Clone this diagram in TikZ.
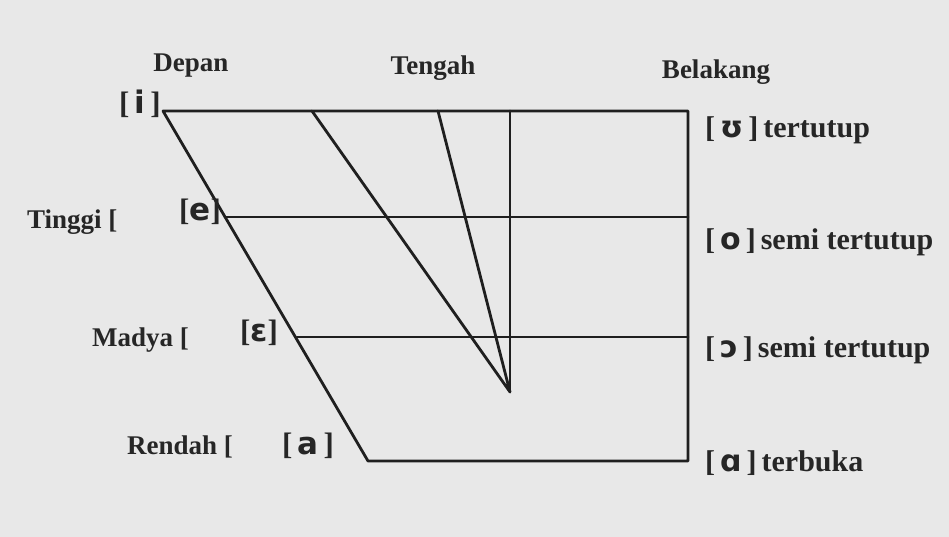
\documentclass[tikz,border=0pt]{standalone}
\usepackage{fontspec}
\setmainfont{Liberation Serif}
\newfontfamily\ipa{DejaVu Sans}
\begin{document}
\begin{tikzpicture}[x=1pt,y=-1pt,
  lbl/.style={inner sep=0pt,font=\fontsize{27}{29}\selectfont\bfseries, text=black!85},
  vlbl/.style={inner sep=0pt,font=\fontsize{31}{33}\selectfont\bfseries, text=black!85},
  rlbl/.style={inner sep=0pt,anchor=west,font=\fontsize{30}{32}\selectfont\bfseries, text=black!85},
  ln/.style={line width=2.8pt,draw=black!88,line cap=round,line join=round}]
\fill[black!9] (0,0) rectangle (949,537);
\useasboundingbox (0,0) rectangle (949,537);
% vertices
\coordinate (TL) at (163,111);
\coordinate (TR) at (688,111);
\coordinate (BR) at (688,461);
\coordinate (BL) at (368,461);
\coordinate (M1L) at (225,217);
\coordinate (M1R) at (688,217);
\coordinate (M2L) at (297,337);
\coordinate (M2R) at (688,337);
\coordinate (A) at (510,392);
\coordinate (F1) at (312,111);
\coordinate (F2) at (438,111);
\coordinate (F3) at (510,111);
\draw[ln] (TL) -- (TR) -- (BR) -- (BL) -- cycle;
\draw[ln] (M1L) -- (M1R);
\draw[ln] (M2L) -- (M2R);
\draw[ln] (F1) -- (A) -- (F2);
\draw[ln] (F3) -- (A);
% headings
\node[lbl] (dep) at (191,66) {Depan};
\node[lbl] (ten) at (433,68) {Tengah};
\node[lbl] (bel) at (716,72) {Belakang};
% left labels
\node[vlbl] (vi) at (140,104) {[\,{\ipa i}\,]};
\node[lbl,anchor=west] (ting) at (27,222) {Tinggi [};
\node[vlbl] (ve) at (200,212) {[{\ipa e}]};
\node[lbl,anchor=west] (mad) at (92,340) {Madya [};
\node[vlbl] (veps) at (259,333) {[{\ipa ɛ}]};
\node[lbl,anchor=west] (ren) at (127,447) {Rendah [};
\node[vlbl] (va) at (308,446) {[\,{\ipa a}\,]};
% right labels
\node[rlbl] (vu) at (705,130) {[\,{\ipa ʊ}\,]\,tertutup};
\node[rlbl] (vo) at (705,242) {[\,{\ipa o}\,]\,semi tertutup};
\node[rlbl] (voo) at (705,350) {[\,{\ipa ɔ}\,]\,semi tertutup};
\node[rlbl] (vaa) at (705,463) {[\,{\ipa ɑ}\,]\,terbuka};
\end{tikzpicture}
\end{document}
